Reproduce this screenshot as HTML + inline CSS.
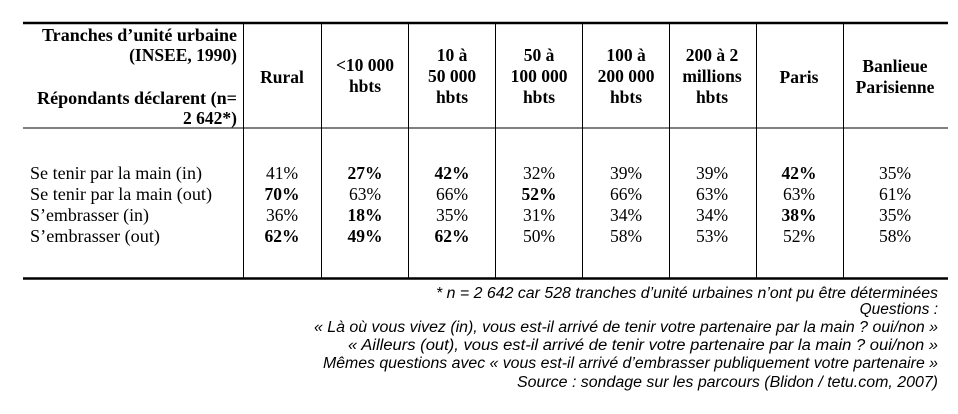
<!DOCTYPE html>
<html><head><meta charset="utf-8"><style>
body{margin:0;background:#fff;}
svg{display:block}
.h{font-family:"Liberation Serif",serif;font-weight:bold;font-size:17.5px;fill:#000}
.b{font-family:"Liberation Serif",serif;font-size:17.5px;fill:#000}
.bb{font-family:"Liberation Serif",serif;font-size:17.5px;font-weight:bold;fill:#000}
.f{font-family:"Liberation Sans",sans-serif;font-style:italic;font-size:15.5px;fill:#000}
</style></head><body>
<svg width="958" height="414" viewBox="0 0 958 414" xmlns="http://www.w3.org/2000/svg">
<rect width="958" height="414" fill="#fff"/>
<g stroke="#000">
<line x1="23" y1="23" x2="948" y2="23" stroke-width="2.5"/>
<line x1="23" y1="128" x2="948" y2="128" stroke-width="1"/>
<line x1="23" y1="278.5" x2="948" y2="278.5" stroke-width="2.5"/>
<g stroke-width="1">
<line x1="243.5" y1="23" x2="243.5" y2="278"/>
<line x1="321.5" y1="23" x2="321.5" y2="278"/>
<line x1="408.5" y1="23" x2="408.5" y2="278"/>
<line x1="495.5" y1="23" x2="495.5" y2="278"/>
<line x1="582.5" y1="23" x2="582.5" y2="278"/>
<line x1="669.5" y1="23" x2="669.5" y2="278"/>
<line x1="756.5" y1="23" x2="756.5" y2="278"/>
<line x1="843.5" y1="23" x2="843.5" y2="278"/>
</g></g>
<g class="h" text-anchor="end">
<text x="237" y="41" textLength="195" lengthAdjust="spacingAndGlyphs">Tranches d’unité urbaine</text>
<text x="237" y="61">(INSEE, 1990)</text>
<text x="237" y="104" textLength="200" lengthAdjust="spacingAndGlyphs">Répondants déclarent (n=</text>
<text x="237" y="124">2 642*)</text>
</g>
<g class="h" text-anchor="middle">
<text x="282" y="83">Rural</text>
<text x="365" y="71">&lt;10 000</text><text x="365" y="92">hbts</text>
<text x="452" y="61">10 à</text><text x="452" y="82">50 000</text><text x="452" y="103">hbts</text>
<text x="539" y="61">50 à</text><text x="539" y="82">100 000</text><text x="539" y="103">hbts</text>
<text x="626" y="61">100 à</text><text x="626" y="82">200 000</text><text x="626" y="103">hbts</text>
<text x="712" y="61">200 à 2</text><text x="712" y="82">millions</text><text x="712" y="103">hbts</text>
<text x="799" y="83">Paris</text>
<text x="895" y="72">Banlieue</text><text x="895" y="93">Parisienne</text>
</g>
<g class="b">
<text x="30" y="179" textLength="172" lengthAdjust="spacingAndGlyphs">Se tenir par la main (in)</text>
<text x="30" y="200" textLength="182" lengthAdjust="spacingAndGlyphs">Se tenir par la main (out)</text>
<text x="30" y="221" textLength="119" lengthAdjust="spacingAndGlyphs">S’embrasser (in)</text>
<text x="30" y="242" textLength="130" lengthAdjust="spacingAndGlyphs">S’embrasser (out)</text>
</g>
<g text-anchor="middle">
<text class="b" x="282" y="179">41%</text><text class="bb" x="282" y="200">70%</text><text class="b" x="282" y="221">36%</text><text class="bb" x="282" y="242">62%</text>
<text class="bb" x="365" y="179">27%</text><text class="b" x="365" y="200">63%</text><text class="bb" x="365" y="221">18%</text><text class="bb" x="365" y="242">49%</text>
<text class="bb" x="452" y="179">42%</text><text class="b" x="452" y="200">66%</text><text class="b" x="452" y="221">35%</text><text class="bb" x="452" y="242">62%</text>
<text class="b" x="539" y="179">32%</text><text class="bb" x="539" y="200">52%</text><text class="b" x="539" y="221">31%</text><text class="b" x="539" y="242">50%</text>
<text class="b" x="626" y="179">39%</text><text class="b" x="626" y="200">66%</text><text class="b" x="626" y="221">34%</text><text class="b" x="626" y="242">58%</text>
<text class="b" x="712" y="179">39%</text><text class="b" x="712" y="200">63%</text><text class="b" x="712" y="221">34%</text><text class="b" x="712" y="242">53%</text>
<text class="bb" x="799" y="179">42%</text><text class="b" x="799" y="200">63%</text><text class="bb" x="799" y="221">38%</text><text class="b" x="799" y="242">52%</text>
<text class="b" x="895" y="179">35%</text><text class="b" x="895" y="200">61%</text><text class="b" x="895" y="221">35%</text><text class="b" x="895" y="242">58%</text>
</g>
<g class="f" text-anchor="end">
<text x="938" y="298" textLength="502" lengthAdjust="spacingAndGlyphs">* n = 2 642 car 528 tranches d’unité urbaines n’ont pu être déterminées</text>
<text x="938" y="314">Questions :</text>
<text x="938" y="332" textLength="624" lengthAdjust="spacingAndGlyphs">« Là où vous vivez (in), vous est-il arrivé de tenir votre partenaire par la main ? oui/non »</text>
<text x="938" y="350" textLength="590" lengthAdjust="spacingAndGlyphs">« Ailleurs (out), vous est-il arrivé de tenir votre partenaire par la main ? oui/non »</text>
<text x="938" y="368" textLength="615" lengthAdjust="spacingAndGlyphs">Mêmes questions avec « vous est-il arrivé d’embrasser publiquement votre partenaire »</text>
<text x="938" y="387" textLength="421" lengthAdjust="spacingAndGlyphs">Source : sondage sur les parcours (Blidon / tetu.com, 2007)</text>
</g>
</svg>
</body></html>
